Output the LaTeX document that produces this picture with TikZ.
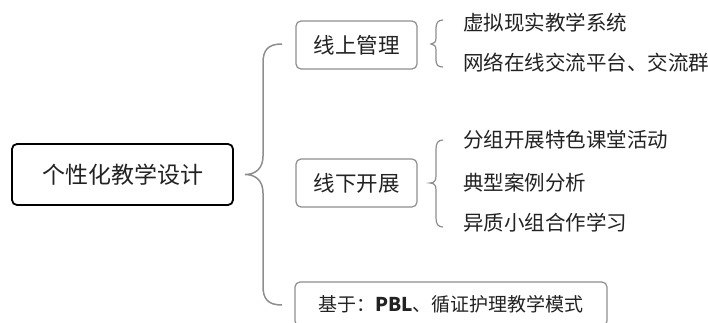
\documentclass[tikz,border=0pt]{standalone}
\usepackage{fontspec}
\setmainfont{Noto Sans CJK SC}
\definecolor{framegray}{HTML}{8E8E8E}
\definecolor{inkgray}{HTML}{222222}

\begin{document}
\begin{tikzpicture}[x=1pt,y=-1pt]
      \tikzstyle{root}=[draw=black,line width=1.8pt,rounded corners=5pt,minimum width=221pt,minimum height=61pt,inner sep=0pt,font=\fontsize{23}{26}\selectfont,text=inkgray]
      \tikzstyle{branch}=[draw=framegray,line width=1.2pt,rounded corners=5pt,minimum width=121pt,minimum height=48pt,inner sep=0pt,font=\fontsize{21.5}{24}\selectfont,text=inkgray]
      \tikzstyle{leaf}=[anchor=west,inner sep=0pt,font=\fontsize{20.5}{24}\selectfont,text=inkgray]
      \tikzstyle{bracket}=[draw=framegray,line width=1.5pt]

      \clip (0,0) rectangle (708,323);
      \fill[white] (0,0) rectangle (708,323);

      \node[root] (design) at (122.5,174.5) {个性化教学设计};

      \node[branch] (online) at (356.5,45) {线上管理};
      \node[branch] (offline) at (356.5,183) {线下开展};
      \node[branch,minimum width=312pt,minimum height=44pt,font=\fontsize{19}{22}\selectfont] (basis) at (451,304) {基于：\textbf{PBL}、循证护理教学模式};

      \node[leaf] (vr) at (463,23) {虚拟现实教学系统};
      \node[leaf] (net) at (463,63) {网络在线交流平台、交流群};

      \node[leaf] (group) at (463,140) {分组开展特色课堂活动};
      \node[leaf] (case) at (463,183) {典型案例分析};
      \node[leaf] (hetero) at (463,223) {异质小组合作学习};

      \coordinate (rootbrace) at (245,174.5);
      \coordinate (onbrace) at (431,44);
      \coordinate (offbrace) at (430,183);

      \draw[bracket] (282,44) .. controls (268,44) and (263,50) .. (263,63)
        -- (263,156) .. controls (263,168) and (256,174.5) .. (rootbrace)
        .. controls (256,174.5) and (263,181) .. (263,193)
        -- (263,286) .. controls (263,299) and (268,305) .. (282,305);

      \draw[bracket,line width=1.2pt] (443,20) .. controls (438,20) and (436,23) .. (436,28)
        -- (436,38) .. controls (436,42) and (434,44) .. (onbrace)
        .. controls (434,44) and (436,46) .. (436,50)
        -- (436,60) .. controls (436,65) and (438,67) .. (443,67);

      \draw[bracket,line width=1.2pt] (443,140) .. controls (438,140) and (436,143) .. (436,149)
        -- (436,176) .. controls (436,181) and (434,183) .. (offbrace)
        .. controls (434,183) and (436,185) .. (436,190)
        -- (436,218) .. controls (436,224) and (438,227) .. (443,227);
    \end{tikzpicture}
\end{document}
